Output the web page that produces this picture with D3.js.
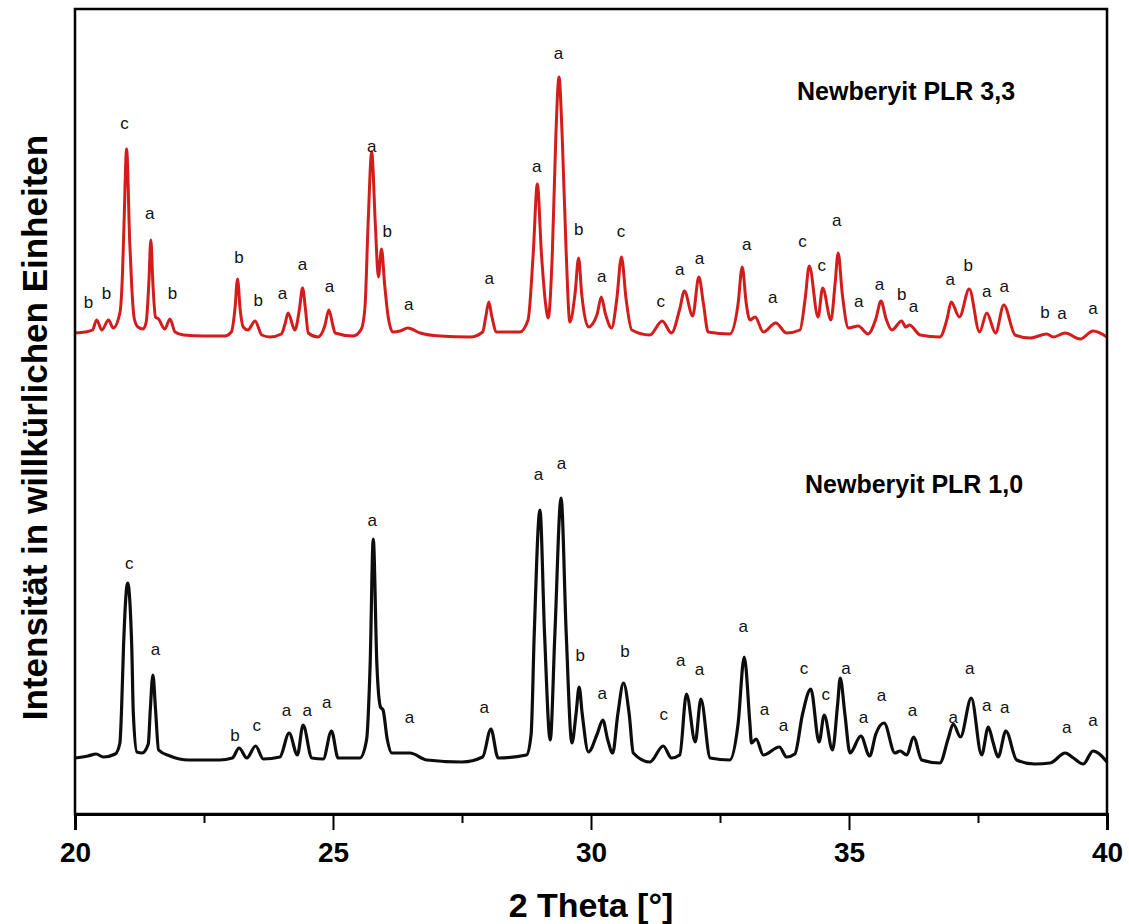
<!DOCTYPE html>
<html>
<head>
<meta charset="utf-8">
<script src="https://cdn.jsdelivr.net/npm/d3@7"></script>
<style>
  body { margin: 0; background: #fff; }
  svg { display: block; }
</style>
</head>
<body>
<svg id="chart" width="1129" height="924"></svg>
<script>
// X-ray diffraction patterns: [2θ in degrees, intensity in arbitrary units]
const redPattern = [
  [20.00, 481], [20.20, 482], [20.34, 484], [20.42, 494], [20.52, 484], [20.65, 494], [20.74, 486],
  [20.87, 501], [20.92, 540], [20.95, 590], [21.00, 665], [21.06, 573], [21.10, 527], [21.15, 495],
  [21.22, 487], [21.32, 485], [21.38, 492], [21.43, 530], [21.47, 574], [21.51, 530], [21.56, 497],
  [21.62, 495], [21.74, 485], [21.84, 495], [21.94, 482], [22.10, 479], [22.50, 478], [22.90, 478],
  [23.03, 482], [23.10, 505], [23.15, 535], [23.20, 505], [23.26, 487], [23.35, 484], [23.49, 493],
  [23.62, 479], [23.78, 477], [24.00, 480], [24.07, 490], [24.13, 501], [24.26, 484], [24.35, 505],
  [24.41, 526], [24.47, 503], [24.52, 481], [24.71, 477], [24.84, 488], [24.92, 504], [25.00, 488],
  [25.04, 481], [25.39, 478], [25.55, 485], [25.62, 507], [25.68, 590], [25.75, 662], [25.82, 590],
  [25.88, 537], [25.94, 565], [26.00, 530], [26.07, 497], [26.16, 482], [26.30, 483], [26.45, 486],
  [26.69, 481], [27.07, 478], [27.66, 477], [27.90, 482], [27.96, 497], [28.02, 512], [28.08, 497],
  [28.17, 482], [28.62, 482], [28.78, 494], [28.88, 560], [28.96, 630], [29.04, 560], [29.12, 510],
  [29.17, 496], [29.25, 560], [29.32, 680], [29.38, 737], [29.44, 680], [29.52, 560], [29.59, 492],
  [29.69, 520], [29.76, 556], [29.82, 520], [29.95, 487], [30.12, 500], [30.20, 517], [30.28, 500],
  [30.40, 486], [30.50, 515], [30.59, 557], [30.68, 515], [30.79, 484], [31.14, 479], [31.38, 493],
  [31.56, 481], [31.72, 505], [31.81, 523], [31.97, 498], [32.09, 537], [32.18, 510], [32.27, 482],
  [32.69, 480], [32.85, 510], [32.93, 547], [33.01, 510], [33.08, 494], [33.18, 497], [33.34, 482],
  [33.58, 491], [33.79, 481], [34.05, 484], [34.15, 515], [34.23, 548], [34.40, 497], [34.49, 526],
  [34.65, 494], [34.73, 530], [34.79, 561], [34.87, 520], [34.99, 486], [35.18, 488], [35.37, 480],
  [35.52, 495], [35.62, 513], [35.72, 495], [35.83, 484], [36.02, 493], [36.10, 487], [36.17, 489],
  [36.38, 479], [36.76, 477], [36.90, 495], [36.98, 512], [37.14, 497], [37.33, 525], [37.53, 482],
  [37.67, 501], [37.84, 481], [38.00, 509], [38.22, 479], [38.51, 476], [38.83, 480], [38.96, 477],
  [39.19, 481], [39.48, 475], [39.73, 483], [40.00, 477]
];

const blackPattern = [
  [20.00, 56], [20.25, 58], [20.41, 60], [20.55, 57], [20.78, 60], [20.87, 71], [20.90, 101],
  [20.94, 167], [21.02, 231], [21.10, 167], [21.13, 101], [21.20, 62], [21.30, 61], [21.42, 70],
  [21.46, 105], [21.51, 139], [21.56, 105], [21.62, 64], [21.84, 58], [22.20, 54], [22.80, 54],
  [23.05, 56], [23.18, 66], [23.33, 56], [23.50, 68], [23.65, 55], [23.97, 57], [24.15, 81],
  [24.31, 59], [24.42, 89], [24.59, 56], [24.81, 55], [24.97, 83], [25.10, 56], [25.52, 56],
  [25.65, 74], [25.72, 150], [25.78, 275], [25.85, 150], [25.92, 107], [25.97, 104], [26.05, 75],
  [26.14, 61], [26.49, 61], [26.82, 54], [27.50, 52], [27.90, 57], [28.06, 85], [28.20, 56],
  [28.75, 59], [28.84, 80], [28.90, 180], [29.01, 304], [29.10, 180], [29.21, 74], [29.30, 180],
  [29.42, 316], [29.52, 180], [29.63, 71], [29.71, 100], [29.77, 127], [29.83, 100], [29.95, 62],
  [30.12, 80], [30.23, 94], [30.32, 75], [30.42, 61], [30.52, 100], [30.63, 131], [30.74, 100],
  [30.82, 61], [31.14, 52], [31.40, 68], [31.56, 56], [31.72, 59], [31.85, 120], [32.02, 72],
  [32.13, 115], [32.31, 56], [32.69, 54], [32.85, 90], [32.97, 157], [33.08, 90], [33.11, 71],
  [33.20, 75], [33.34, 59], [33.65, 67], [33.79, 57], [33.95, 60], [34.10, 100], [34.26, 125],
  [34.42, 72], [34.52, 99], [34.68, 64], [34.78, 110], [34.83, 136], [34.92, 100], [35.02, 61],
  [35.23, 78], [35.40, 58], [35.52, 80], [35.68, 91], [35.89, 61], [35.99, 63], [36.12, 59],
  [36.25, 77], [36.41, 54], [36.76, 51], [36.92, 75], [37.02, 90], [37.16, 77], [37.37, 116],
  [37.57, 59], [37.70, 87], [37.79, 72], [37.89, 57], [38.04, 83], [38.25, 54], [38.60, 50],
  [38.90, 51], [39.19, 61], [39.35, 56], [39.54, 50], [39.73, 63], [40.00, 52]
];

// Phase assignments of reflections: [2θ, label height, phase]
const redMarks = [
  [20.26, 512, "b"], [20.61, 521, "b"], [20.96, 691, "c"], [21.45, 601, "a"], [21.89, 521, "b"],
  [23.18, 557, "b"], [23.55, 514, "b"], [24.02, 521, "a"], [24.41, 550, "a"], [24.93, 528, "a"],
  [25.75, 668, "a"], [26.05, 583, "b"], [26.47, 510, "a"], [28.03, 536, "a"], [28.95, 648, "a"],
  [29.37, 761, "a"], [29.76, 585, "b"], [30.21, 538, "a"], [30.58, 583, "c"], [31.35, 513, "c"],
  [31.72, 545, "a"], [32.10, 556, "a"], [33.02, 570, "a"], [33.52, 517, "a"], [34.10, 573, "c"],
  [34.47, 549, "c"], [34.76, 594, "a"], [35.19, 513, "a"], [35.59, 530, "a"], [36.02, 520, "b"],
  [36.25, 508, "a"], [36.96, 535, "a"], [37.31, 549, "b"], [37.67, 523, "a"], [38.01, 528, "a"],
  [38.80, 502, "b"], [39.13, 501, "a"], [39.73, 506, "a"]
];

const blackMarks = [
  [21.05, 251, "c"], [21.56, 165, "a"], [23.10, 79, "b"], [23.52, 89, "c"], [24.10, 104, "a"],
  [24.50, 104, "a"], [24.88, 112, "a"], [25.76, 294, "a"], [26.48, 97, "a"], [27.93, 107, "a"],
  [28.98, 340, "a"], [29.43, 351, "a"], [29.79, 159, "b"], [30.22, 121, "a"], [30.66, 163, "b"],
  [31.41, 100, "c"], [31.74, 154, "a"], [32.10, 145, "a"], [32.95, 188, "a"], [33.36, 105, "a"],
  [33.73, 89, "a"], [34.13, 146, "c"], [34.55, 120, "c"], [34.94, 146, "a"], [35.28, 97, "a"],
  [35.63, 119, "a"], [36.23, 104, "a"], [37.02, 97, "a"], [37.34, 146, "a"], [37.67, 109, "a"],
  [38.02, 107, "a"], [39.22, 87, "a"], [39.73, 94, "a"]
];

const xMajorTicks = [20, 25, 30, 35, 40];
const xMinorTicks = [22.5, 27.5, 32.5, 37.5];
const seriesNames = ["Newberyit PLR 3,3", "Newberyit PLR 1,0"];
const xTitle = "2 Theta [°]";
const yTitle = "Intensität in willkürlichen Einheiten";

const plot = { left: 75, right: 1107, top: 9, bottom: 814 };
const svg = d3.select("#chart");
const FONT = "'Liberation Sans', Arial, Helvetica, sans-serif";

const x = d3.scaleLinear().domain([20, 40]).range([plot.left, plot.right]);
const y = d3.scaleLinear().domain([0, 805]).range([plot.bottom, plot.top]);

const line = d3.line()
  .x(d => x(d[0]))
  .y(d => y(d[1]))
  .curve(d3.curveMonotoneX);

// Patterns
svg.append("path").datum(redPattern)
  .attr("d", line).attr("fill", "none")
  .attr("stroke", "#d41c1c").attr("stroke-width", 3)
  .attr("stroke-linejoin", "round");

svg.append("path").datum(blackPattern)
  .attr("d", line).attr("fill", "none")
  .attr("stroke", "#0d0d0d").attr("stroke-width", 3.2)
  .attr("stroke-linejoin", "round");

// Phase letters above the reflections
function marks(data) {
  svg.append("g").selectAll("text").data(data).join("text")
    .attr("x", d => x(d[0]))
    .attr("y", d => y(d[1]))
    .attr("dy", "0.35em")
    .attr("text-anchor", "middle")
    .attr("font-family", FONT)
    .attr("font-size", 17)
    .attr("fill", "#111")
    .text(d => d[2]);
}
marks(redMarks);
marks(blackMarks);

// Frame
svg.append("rect")
  .attr("x", plot.left).attr("y", plot.top)
  .attr("width", plot.right - plot.left).attr("height", plot.bottom - plot.top)
  .attr("fill", "none").attr("stroke", "#000").attr("stroke-width", 2.5);

// Bottom axis
const axis = d3.axisBottom(x).tickValues(xMajorTicks).tickSize(16).tickFormat(d3.format("d"));
const gAxis = svg.append("g").attr("transform", `translate(0,${plot.bottom})`).call(axis);
gAxis.select(".domain").attr("stroke-width", 3);
gAxis.selectAll(".tick line").attr("stroke-width", 2);
gAxis.selectAll(".tick text")
  .attr("font-family", FONT).attr("font-weight", "bold")
  .attr("font-size", 28).attr("fill", "#000").attr("dy", null).attr("y", 48);

const minor = d3.axisBottom(x).tickValues(xMinorTicks).tickSize(9).tickFormat("");
const gMinor = svg.append("g").attr("transform", `translate(0,${plot.bottom})`).call(minor);
gMinor.select(".domain").remove();
gMinor.selectAll(".tick line").attr("stroke-width", 2);

// Axis titles
svg.append("text")
  .attr("x", x(30)).attr("y", 917)
  .attr("text-anchor", "middle")
  .attr("font-family", FONT).attr("font-weight", "bold").attr("font-size", 34)
  .text(xTitle);

svg.append("text")
  .attr("transform", `translate(47,${(135 + 720) / 2}) rotate(-90)`)
  .attr("text-anchor", "middle")
  .attr("font-family", FONT).attr("font-weight", "bold").attr("font-size", 35)
  .text(yTitle);

// Series names
svg.append("text")
  .attr("x", 797).attr("y", 100)
  .attr("font-family", FONT).attr("font-weight", "bold").attr("font-size", 25)
  .text(seriesNames[0]);
svg.append("text")
  .attr("x", 805).attr("y", 493)
  .attr("font-family", FONT).attr("font-weight", "bold").attr("font-size", 25)
  .text(seriesNames[1]);
</script>
</body>
</html>
